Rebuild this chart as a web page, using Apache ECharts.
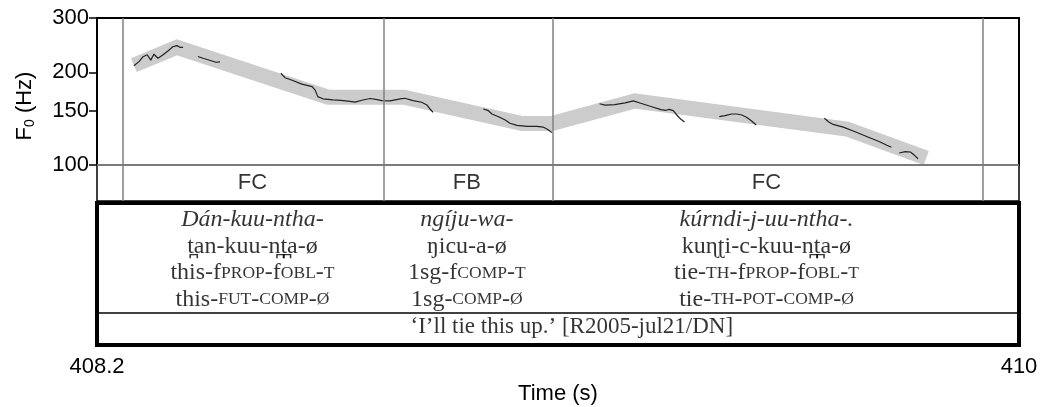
<!DOCTYPE html>
<html><head><meta charset="utf-8">
<script src="https://cdn.jsdelivr.net/npm/echarts@6/dist/echarts.min.js"></script>
<style>html,body{margin:0;padding:0;background:#fff}#c{width:1048px;height:407px}</style>
</head><body><div id="c"></div>
<script>
// ---- data ----
const tMin = 408.2, tMax = 410;
const xTicks = [408.2, 410];
const yTicks = [100, 150, 200, 300];
// stylised contour (grey band): [time s, F0 Hz]
const band = [[408.272,211],[408.356,241],[408.651,166],[408.799,166],[409.030,136.4],[409.088,136.4],[409.250,161.4],[409.664,130.9],[409.819,105.4]];
// measured F0 trace segments
const trace1 = [[408.272,210],[408.282,216.5],[408.290,224.7],[408.298,228],[408.305,219],[408.311,228.8],[408.319,222],[408.329,228],[408.339,235],[408.348,242],[408.356,244],[408.362,241],[408.368,241]];
const trace2 = [[408.397,225],[408.407,222],[408.423,218],[408.432,215.5],[408.440,216]];
const trace3 = [[408.559,198.5],[408.567,192],[408.581,188.4],[408.600,183],[408.620,179.6],[408.626,175],[408.631,166.7],[408.641,164],[408.661,162.6],[408.676,162],[408.694,160.8],[408.704,159.9],[408.717,162.2],[408.733,164.4],[408.747,162.9],[408.756,161.7],[408.772,161.4],[408.792,164],[408.801,164.7],[408.817,161.7],[408.834,159.8],[408.844,156.6],[408.850,152],[408.856,148.3]];
const trace4 = [[408.954,152],[408.963,150.5],[408.971,146.4],[408.985,143.2],[408.997,140],[409.006,136.6],[409.020,134.4],[409.040,133.4],[409.059,133.4],[409.071,132.8],[409.080,130.4],[409.088,127.5]];
const trace5 = [[409.181,158.1],[409.192,156.4],[409.211,157],[409.231,159],[409.247,161.4],[409.260,159],[409.280,155.1],[409.301,151.2],[409.311,150.5],[409.317,151.6],[409.325,150.1],[409.332,145.3],[409.340,140.7],[409.347,138]];
const trace6 = [[409.415,143.5],[409.426,144.6],[409.439,146.4],[409.449,146.4],[409.459,145.3],[409.468,142.8],[409.478,139],[409.487,134.8]];
const trace7 = [[409.620,141.8],[409.628,138.2],[409.637,135.4],[409.657,132.7],[409.680,128.2],[409.705,123.3],[409.729,118.8],[409.742,115.9],[409.751,114.2]];
const trace8 = [[409.766,109.4],[409.778,110.5],[409.788,110.2],[409.796,107.5],[409.803,104.8]];
const traces = [trace1, trace2, trace3, trace4, trace5, trace6, trace7, trace8];
// tier intervals
const tierBounds = [408.251, 408.756, 409.088, 409.926];
const tierLabels = ['FC', 'FB', 'FC'];
// interlinear gloss columns (⟨…⟩ = small caps)
const glossCol1 = ['Dán-kuu-ntha-', 't̪an-kuu-n̪t̪a-ø', 'this-f⟨PROP⟩-f⟨OBL⟩-⟨T⟩', 'this-⟨FUT⟩-⟨COMP⟩-⟨Ø⟩'];
const glossCol2 = ['ngíju-wa-', 'ŋicu-a-ø', '1sg-f⟨COMP⟩-⟨T⟩', '1sg-⟨COMP⟩-⟨Ø⟩'];
const glossCol3 = ['kúrndi-j-uu-ntha-.', 'kuɳʈi-c-kuu-n̪t̪a-ø', 'tie-⟨TH⟩-f⟨PROP⟩-f⟨OBL⟩-⟨T⟩', 'tie-⟨TH⟩-⟨POT⟩-⟨COMP⟩-⟨Ø⟩'];
const translation = '‘I’ll tie this up.’ [R2005-jul21/DN]';
const translationT = 409.127;
const glossRows = [0.64, 1.64, 2.64, 3.64];
const translationRow = 4.68;
const separatorRow = 4.14;

// ---- chart ----
const SANS = '"Liberation Sans", Arial, sans-serif';
const SERIF = '"Liberation Serif", "Times New Roman", serif';
const L = 97, W = 922;
const tierMids = tierLabels.map((_, i) => (tierBounds[i] + tierBounds[i + 1]) / 2);

function toRich(s, italic, base) {
  if (italic) return '{i|' + s + '}';
  return '{' + base + '|' + s.replace(/⟨([^⟩]*)⟩/g, '}{s|$1}{' + base + '|') + '}';
}
const glossData = [];
[glossCol1, glossCol2, glossCol3].forEach((col, ci) => {
  col.forEach((line, li) => {
    glossData.push({ value: [tierMids[ci], glossRows[li]], label: { formatter: toRich(line, li === 0, 'n') } });
  });
});
glossData.push({ value: [translationT, translationRow], label: { formatter: toRich(translation, false, 't') } });

const vLineStyle = { color: '#808080', width: 1.5, type: 'solid' };
const vLines = {
  silent: true, symbol: ['none', 'none'], label: { show: false }, lineStyle: vLineStyle,
  data: tierBounds.map(t => ({ xAxis: t }))
};
const topLines = {
  silent: true, symbol: ['none', 'none'], label: { show: false }, lineStyle: vLineStyle,
  data: tierBounds.map(t => ({ xAxis: t })).concat([{ yAxis: 100, lineStyle: { color: '#7a7a7a', width: 2 } }])
};

const chart = echarts.init(document.getElementById('c'), null, { renderer: 'canvas' });
chart.setOption({
  animation: false,
  backgroundColor: '#fff',
  grid: [
    { left: L, width: W, top: 18, height: 147, show: true, borderColor: '#000', borderWidth: 2 },
    { left: L, width: W, top: 165, height: 36, show: true, borderColor: '#000', borderWidth: 1.5 },
    { left: L, width: W, top: 203, height: 142, show: true, borderColor: '#000', borderWidth: 4 }
  ],
  xAxis: [
    { gridIndex: 0, type: 'value', min: tMin, max: tMax, show: false },
    { gridIndex: 1, type: 'value', min: tMin, max: tMax, show: false },
    { gridIndex: 2, type: 'value', min: tMin, max: tMax, position: 'bottom',
      axisLine: { show: false },
      axisTick: { show: true, length: 8, customValues: xTicks, lineStyle: { color: '#000', width: 1.5 } },
      axisLabel: { customValues: xTicks, fontSize: 22, fontFamily: SANS, color: '#000', margin: 11, formatter: v => String(v) },
      splitLine: { show: false },
      name: 'Time (s)', nameLocation: 'middle', nameGap: 38,
      nameTextStyle: { fontSize: 22, fontFamily: SANS, color: '#000' } }
  ],
  yAxis: [
    { gridIndex: 0, type: 'log', logBase: 10, min: 100, max: 300,
      axisLine: { show: true, lineStyle: { color: '#000', width: 2 } },
      axisTick: { show: true, length: 8, customValues: yTicks, lineStyle: { color: '#000', width: 1.5 } },
      axisLabel: { customValues: yTicks, fontSize: 22, fontFamily: SANS, color: '#000', margin: 8 },
      splitLine: { show: false } },
    { gridIndex: 1, type: 'value', min: 0, max: 1, show: false },
    { gridIndex: 2, type: 'value', min: 0, max: 5.36, inverse: true, show: false }
  ],
  graphic: [{
    type: 'text', x: 25, y: 106, rotation: Math.PI / 2,
    style: { text: 'F{s|0} (Hz)', fontSize: 22, fontFamily: SANS, fill: '#000', align: 'center', verticalAlign: 'middle',
      rich: { s: { fontSize: 14, fontFamily: SANS, verticalAlign: 'bottom', padding: [10, 0, 0, 0] } } }
  }],
  series: [
    { type: 'line', xAxisIndex: 0, yAxisIndex: 0, data: band, symbol: 'none', z: 1,
      lineStyle: { color: '#cccccc', width: 15, join: 'miter', cap: 'butt' }, markLine: topLines },
    ...traces.map(tr => ({ type: 'line', xAxisIndex: 0, yAxisIndex: 0, data: tr, symbol: 'none', z: 3,
      lineStyle: { color: '#222', width: 1.2 } })),
    { type: 'scatter', xAxisIndex: 1, yAxisIndex: 1, symbolSize: 1, itemStyle: { color: 'rgba(0,0,0,0)' },
      data: tierMids.map((t, i) => ({ value: [t, 0.5], label: { formatter: tierLabels[i] } })),
      label: { show: true, position: 'inside', fontSize: 22, fontFamily: SANS, color: '#000' },
      markLine: vLines },
    { type: 'scatter', xAxisIndex: 2, yAxisIndex: 2, symbolSize: 1, itemStyle: { color: 'rgba(0,0,0,0)' },
      data: glossData,
      label: { show: true, position: 'inside', color: '#000',
        rich: {
          i: { fontSize: 24, fontStyle: 'italic', fontFamily: SERIF, color: '#000' },
          n: { fontSize: 24, fontFamily: SERIF, color: '#000' },
          t: { fontSize: 23, fontFamily: SERIF, color: '#000' },
          s: { fontSize: 17.5, fontFamily: SERIF, color: '#000' }
        } },
      markLine: { silent: true, symbol: ['none', 'none'], label: { show: false },
        lineStyle: { color: '#000', width: 1.5, type: 'solid' }, data: [{ yAxis: separatorRow }] } }
  ]
});
</script></body></html>
